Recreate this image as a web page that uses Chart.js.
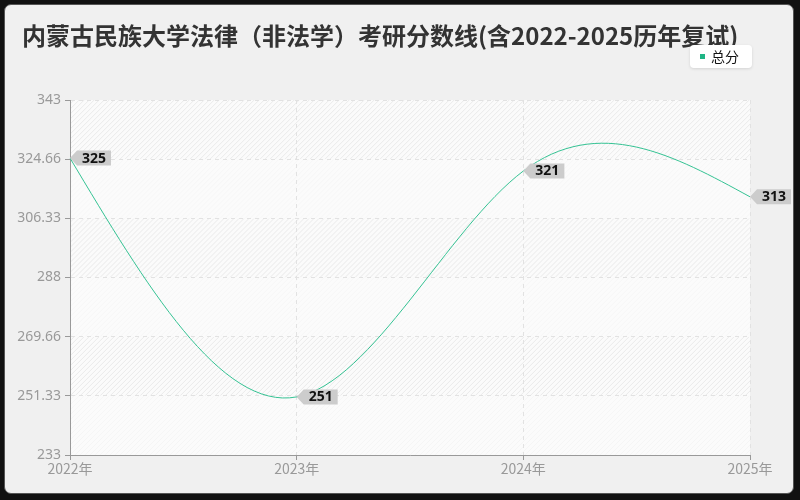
<!DOCTYPE html>
<html><head><meta charset="utf-8">
<script src="https://cdn.jsdelivr.net/npm/chart.js@4"></script>
<style>
html,body{margin:0;padding:0;width:800px;height:500px;overflow:hidden;background:#111;}
#card{position:absolute;left:4px;top:4px;width:788px;height:488px;background:#f0f0f0;border:1px solid #555;border-radius:7px;}
#wrap{position:absolute;left:0;top:0;width:800px;height:500px;}
</style></head><body>
<div id="card"></div>
<div id="wrap"><canvas id="c" width="800" height="500"></canvas></div>
<script>
const titleText = '内蒙古民族大学法律（非法学）考研分数线(含2022-2025历年复试)';
const categories = ['2022年','2023年','2024年','2025年'];
const seriesName = '总分';
const totalScores = [325, 251, 321, 313];
const yTickValues = [233, 251.33, 269.66, 288, 306.33, 324.66, 343];
const yTickLabels = ['233','251.33','269.66','288','306.33','324.66','343'];
const lineColor = '#35c293';

// natural cubic spline control points applied to the library's own points
const splinePlugin = {
  id: 'naturalSpline',
  beforeDatasetDraw(chart, args){
    const meta = args.meta;
    const line = meta.dataset;
    if (!line) return;
    line.updateControlPoints(chart.chartArea, 'x');
    const pts = meta.data;
    const n = pts.length;
    if (n < 3) return;
    const xs = pts.map(p => p.x), ys = pts.map(p => p.y);
    const h = [];
    for (let i = 0; i < n-1; i++) h.push(xs[i+1]-xs[i]);
    const M = new Array(n).fill(0);
    const a = [], b = [], c = [], d = [];
    for (let i = 1; i < n-1; i++) {
      a.push(h[i-1]); b.push(2*(h[i-1]+h[i])); c.push(h[i]);
      d.push(6*((ys[i+1]-ys[i])/h[i] - (ys[i]-ys[i-1])/h[i-1]));
    }
    const m = b.length;
    for (let i = 1; i < m; i++) {
      const w = a[i]/b[i-1];
      b[i] -= w*c[i-1];
      d[i] -= w*d[i-1];
    }
    const sol = new Array(m);
    sol[m-1] = d[m-1]/b[m-1];
    for (let i = m-2; i >= 0; i--) sol[i] = (d[i]-c[i]*sol[i+1])/b[i];
    for (let i = 0; i < m; i++) M[i+1] = sol[i];
    const D = new Array(n);
    for (let i = 0; i < n-1; i++) D[i] = (ys[i+1]-ys[i])/h[i] - h[i]*(2*M[i]+M[i+1])/6;
    D[n-1] = (ys[n-1]-ys[n-2])/h[n-2] + h[n-2]*(M[n-2]+2*M[n-1])/6;
    for (let i = 0; i < n; i++) {
      const p = pts[i];
      if (i > 0) { const hh = h[i-1]; p.cp1x = xs[i]-hh/3; p.cp1y = ys[i]-D[i]*hh/3; }
      else { p.cp1x = xs[i]; p.cp1y = ys[i]; }
      if (i < n-1) { const hh = h[i]; p.cp2x = xs[i]+hh/3; p.cp2y = ys[i]+D[i]*hh/3; }
      else { p.cp2x = xs[i]; p.cp2y = ys[i]; }
    }
    line._path = undefined;
  }
};

const bgPlugin = {
  id: 'bg',
  beforeDraw(chart){
    const {ctx, chartArea:a, scales:{y}} = chart;
    ctx.save();
    ctx.fillStyle = '#fbfbfb';
    ctx.fillRect(a.left, a.top, a.right-a.left, a.bottom-a.top);
    for (let i = 0; i < yTickValues.length-1; i++) {
      const yTop = y.getPixelForValue(yTickValues[i+1]);
      const yBot = y.getPixelForValue(yTickValues[i]);
      const dark = (yTickValues.length-2-i) % 2 === 0;
      ctx.save();
      ctx.beginPath();
      ctx.rect(a.left, yTop, a.right-a.left, yBot-yTop);
      ctx.clip();
      ctx.strokeStyle = dark ? 'rgba(0,0,0,0.07)' : 'rgba(0,0,0,0.022)';
      ctx.lineWidth = 1;
      for (let x = a.left - (a.bottom-a.top); x < a.right + 20; x += 5) {
        ctx.beginPath();
        ctx.moveTo(x, yBot);
        ctx.lineTo(x + (yBot-yTop), yTop);
        ctx.stroke();
      }
      ctx.restore();
    }
    ctx.restore();
  },
  afterDraw(chart){
    const ctx = chart.ctx;
    ctx.save();
    ctx.fillStyle = '#333';
    ctx.font = 'bold 24px "Noto Sans CJK SC"';
    ctx.textBaseline = 'middle';
    ctx.textAlign = 'left';
    ctx.fillText(titleText, 22, 36);
    // legend
    const lx = 690, ly = 45, lw = 62, lh = 23;
    ctx.save();
    ctx.shadowColor = 'rgba(0,0,0,0.12)';
    ctx.shadowBlur = 3;
    ctx.shadowOffsetY = 1;
    ctx.fillStyle = '#fff';
    ctx.beginPath();
    ctx.roundRect(lx, ly, lw, lh, 4);
    ctx.fill();
    ctx.restore();
    ctx.fillStyle = '#1fb585';
    ctx.fillRect(lx+10, ly+9, 5, 5);
    ctx.fillStyle = '#111';
    ctx.font = '14px "Noto Sans CJK SC"';
    ctx.fillText(seriesName, lx+21, ly+11.5);
    // value tags
    const meta = chart.getDatasetMeta(0);
    ctx.font = 'bold 14px "Noto Sans"';
    meta.data.forEach((pt, i) => {
      const txt = String(totalScores[i]);
      const tw = ctx.measureText(txt).width;
      const x = pt.x, y = pt.y;
      const hgt = 15, tip = 7, pad = 5;
      const w = tw + pad*2;
      ctx.fillStyle = '#cccccc';
      ctx.beginPath();
      ctx.moveTo(x, y);
      ctx.lineTo(x+tip, y-hgt/2);
      ctx.lineTo(x+tip+w, y-hgt/2);
      ctx.lineTo(x+tip+w, y+hgt/2);
      ctx.lineTo(x+tip, y+hgt/2);
      ctx.closePath();
      ctx.fill();
      ctx.fillStyle = '#111';
      ctx.textAlign = 'left';
      ctx.fillText(txt, x+tip+pad, y+0.5);
    });
    ctx.restore();
  }
};

new Chart(document.getElementById('c'), {
  type: 'line',
  data: {
    labels: categories,
    datasets: [{
      label: seriesName,
      data: totalScores,
      borderColor: lineColor,
      borderWidth: 1,
      pointRadius: 0,
      tension: 0.4,
      fill: false
    }]
  },
  options: {
    responsive: false,
    animation: false,
    layout: { padding: { top: 100, right: 50, left: 0, bottom: 0 } },
    plugins: { legend: { display: false }, title: { display: false }, tooltip: { enabled: false } },
    scales: {
      x: {
        offset: false,
        grid: { color: '#e2e2e2', tickColor: '#999', tickLength: 5, drawOnChartArea: true },
        border: { color: '#999', dash: [4,4] },
        ticks: { color: '#999', font: { size: 14, family: '"Noto Sans CJK SC"' }, padding: 0, maxRotation: 0, autoSkip: false },
        afterFit(s){ s.height = 45; }
      },
      y: {
        min: 233, max: 343,
        afterBuildTicks(s){ s.ticks = yTickValues.map(v => ({ value: v })); },
        grid: { color: '#e2e2e2', tickColor: '#999', tickLength: 5 },
        border: { color: '#999', dash: [4,4] },
        ticks: {
          color: '#999', font: { size: 14, family: '"Noto Sans"' }, padding: 4,
          callback(v, i){ return yTickLabels[i]; }
        },
        afterFit(s){ s.width = 70; }
      }
    }
  },
  plugins: [splinePlugin, bgPlugin]
});
</script>
</body></html>
